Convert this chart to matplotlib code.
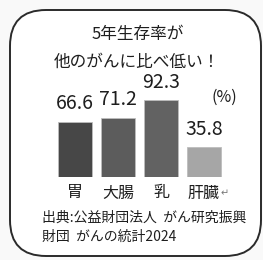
import matplotlib
matplotlib.use("Agg")
import matplotlib.pyplot as plt
from matplotlib.patches import FancyBboxPatch

plt.rcParams['font.family'] = ['Noto Sans CJK JP', 'DejaVu Sans']

# data
categories = ['胃', '大腸', '乳', '肝臓']
values = [66.6, 71.2, 92.3, 35.8]
bar_colors = ['#474747', '#5c5c5c', '#626262', '#a6a6a6']
title_lines = ['5年生存率が', '他のがんに比べ低い！']
unit_label = '(%)'
source_lines = ['出典:公益財団法人  がん研究振興', '財団  がんの統計2024']

W, H = 263, 260
fig = plt.figure(figsize=(W / 100, H / 100), dpi=100)
fig.patch.set_facecolor('#f9f9f9')

# background axes in pixel coords for frame and text
bg = fig.add_axes([0, 0, 1, 1])
bg.set_xlim(0, W)
bg.set_ylim(H, 0)
bg.axis('off')

box = FancyBboxPatch((10 + 36, 10 + 36), 251 - 72, 246 - 72,
                     boxstyle='round,pad=36', fc='white', ec='#2a2a2a', lw=1.4)
bg.add_patch(box)

txt = '#1e1e1e'
bg.text(138, 35, title_lines[0], ha='center', va='center', fontsize=12, color=txt)
bg.text(137, 62, title_lines[1], ha='center', va='center', fontsize=12, color=txt)
bg.text(224, 97, unit_label, ha='center', va='center', fontsize=11.5, color=txt)
bg.text(42, 218, source_lines[0], ha='left', va='center', fontsize=10, color=txt)
bg.text(42, 237, source_lines[1], ha='left', va='center', fontsize=10, color=txt)

# bar axes
ax = fig.add_axes([53.5 / W, (H - 177) / H, 172 / W, 83 / H])
ax.patch.set_alpha(0)
x = range(len(values))
ax.bar(x, values, width=0.77, color=bar_colors, edgecolor='#bdbdbd', linewidth=0.6)
ax.set_xlim(-0.5, 3.5)
ax.set_ylim(0, 100)
ax.axis('off')

for i, v in enumerate(values):
    ax.annotate(f'{v}', (i, v), xytext=(0, 13), textcoords='offset points',
                ha='center', va='center', fontsize=14, color=txt)
    ax.annotate(categories[i], (i, 0), xytext=(0, -11.5), textcoords='offset points',
                ha='center', va='center', fontsize=11.5, color=txt)
ax.annotate('↵', (3, 0), xytext=(15, -11.5), textcoords='offset points',
            ha='center', va='center', fontsize=7, color='#777777')

fig.savefig('out.png', dpi=100, facecolor=fig.get_facecolor())
